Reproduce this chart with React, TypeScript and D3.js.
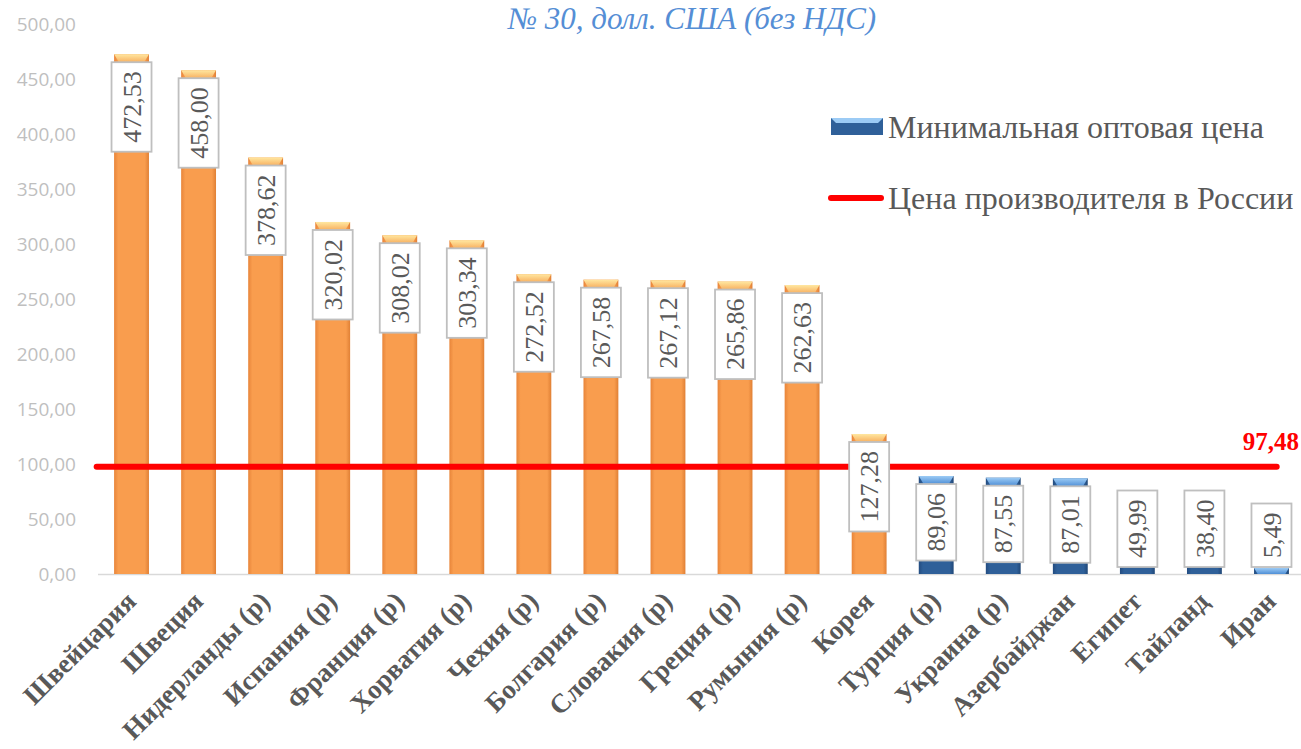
import * as d3 from "d3";

const categories = [
  "Швейцария", "Швеция", "Нидерланды (р)", "Испания (р)", "Франция (р)", "Хорватия (р)",
  "Чехия (р)", "Болгария (р)", "Словакия (р)", "Греция (р)", "Румыния (р)", "Корея",
  "Турция (р)", "Украина (р)", "Азербайджан", "Египет", "Тайланд", "Иран",
];
const minPrices = [
  472.53, 458.0, 378.62, 320.02, 308.02, 303.34, 272.52, 267.58, 267.12, 265.86, 262.63,
  127.28, 89.06, 87.55, 87.01, 49.99, 38.4, 5.49,
];
const russianPrice = 97.48;
const yTicks = [0, 50, 100, 150, 200, 250, 300, 350, 400, 450, 500];
const titleText = "№ 30, долл. США (без НДС)";
const legendBars = "Минимальная оптовая цена";
const legendLine = "Цена производителя в России";

const W = 1301;
const H = 749;
const serif = "Liberation Serif";
const fmt = (v: number) => v.toFixed(2).replace(".", ",");

export default function App() {
  const x = d3.scaleBand<string>().domain(categories).range([98, 1305]).paddingInner(0.48).paddingOuter(0.24);
  const y = d3.scaleLinear().domain([0, 500]).range([574, 24]);
  const bw = x.bandwidth();
  const y0 = y(0);
  const lastCat = categories[categories.length - 1];
  const lineY = y(russianPrice);

  return (
    <div style={{ position: "absolute", left: 0, top: 0 }}>
      <svg width={W} height={H} style={{ display: "block", background: "#fff" }}>
        <defs>
          <linearGradient id="orMain" x1="0" x2="1" y1="0" y2="0">
            <stop offset="0" stopColor="#E8853A" />
            <stop offset="0.12" stopColor="#F99D4E" />
            <stop offset="0.88" stopColor="#F99D4E" />
            <stop offset="1" stopColor="#E08035" />
          </linearGradient>
          <linearGradient id="orCap" x1="0" x2="0" y1="0" y2="1">
            <stop offset="0" stopColor="#FFE7A0" />
            <stop offset="1" stopColor="#F8B060" />
          </linearGradient>
          <linearGradient id="blMain" x1="0" x2="1" y1="0" y2="0">
            <stop offset="0" stopColor="#234C80" />
            <stop offset="0.12" stopColor="#2F6099" />
            <stop offset="0.88" stopColor="#2F6099" />
            <stop offset="1" stopColor="#214878" />
          </linearGradient>
          <linearGradient id="blCap" x1="0" x2="0" y1="0" y2="1">
            <stop offset="0" stopColor="#9CCBF5" />
            <stop offset="1" stopColor="#4F8FD6" />
          </linearGradient>
        </defs>

        {/* title */}
        <text x={692} y={29} textAnchor="middle" fontFamily={serif} fontStyle="italic" fontSize={31} fill="#558ED5">
          {titleText}
        </text>

        {/* y axis labels */}
        {yTicks.map((t) => (
          <text key={t} x={76} y={y(t)} dy="0.35em" textAnchor="end" fontFamily="Open Sans" fontSize={19} fill="#BFBFBF">
            {fmt(t)}
          </text>
        ))}

        {/* baseline */}
        <line x1={98} x2={1305} y1={y0 + 0.5} y2={y0 + 0.5} stroke="#D9D9D9" strokeWidth={1.5} />

        {/* bars */}
        {categories.map((c, i) => {
          const v = minPrices[i];
          const x0 = x(c)!;
          const top = y(v);
          const h = y0 - top;
          const orange = v > russianPrice;
          const capH = Math.min(8, h);
          const inset = Math.min(5, capH * 0.6);
          return (
            <g key={c}>
              <rect x={x0} y={top} width={bw} height={h} fill={orange ? "url(#orMain)" : "url(#blMain)"} />
              <polygon
                points={`${x0},${top} ${x0 + bw},${top} ${x0 + bw - inset},${top + capH} ${x0 + inset},${top + capH}`}
                fill={orange ? "url(#orCap)" : "url(#blCap)"}
              />
            </g>
          );
        })}

        {/* producer price line */}
        <line
          x1={x(categories[0])! - bw * 0.5}
          x2={x(lastCat)! + bw * 0.65}
          y1={lineY}
          y2={lineY}
          stroke="#FF0000"
          strokeWidth={6}
          strokeLinecap="round"
        />
        <text x={1299} y={450} textAnchor="end" fontFamily={serif} fontWeight="bold" fontSize={25} fill="#FF0000">
          {fmt(russianPrice)}
        </text>

        {/* data labels */}
        {categories.map((c, i) => {
          const v = minPrices[i];
          const label = fmt(v);
          const cx = x(c)! + bw / 2;
          const digits = label.replace(",", "").length;
          const boxH = digits * 13 + 6.5 + 18;
          const boxW = 40;
          const boxTop = Math.min(y(v) + 8, y0 - 7 - boxH);
          const cy = boxTop + boxH / 2;
          return (
            <g key={c}>
              <rect x={cx - boxW / 2} y={boxTop} width={boxW} height={boxH} fill="#fff" stroke="#BFBFBF" strokeWidth={1.8} />
              <text
                transform={`translate(${cx},${cy}) rotate(-90)`}
                textAnchor="middle"
                dy="0.35em"
                fontFamily={serif}
                fontSize={26}
                fill="#595959"
              >
                {label}
              </text>
            </g>
          );
        })}

        {/* x labels */}
        {categories.map((c) => {
          const cx = x(c)! + bw / 2;
          return (
            <text
              key={c}
              transform={`translate(${cx + 6},${y0 + 29}) rotate(-45)`}
              textAnchor="end"
              fontFamily={serif}
              fontWeight="bold"
              fontSize={27}
              fill="#595959"
            >
              {c}
            </text>
          );
        })}

        {/* legend */}
        <g>
          <rect x={831} y={118} width={52} height={17} fill="#2F6099" />
          <polygon points="831,118 883,118 878,123 836,123" fill="#9CCBF5" />
          <text x={888} y={138} fontFamily={serif} fontSize={32} fill="#595959">
            {legendBars}
          </text>
          <line x1={831} x2={881} y1={198} y2={198} stroke="#FF0000" strokeWidth={6} strokeLinecap="round" />
          <text x={888} y={209} fontFamily={serif} fontSize={32} fill="#595959">
            {legendLine}
          </text>
        </g>
      </svg>
    </div>
  );
}
